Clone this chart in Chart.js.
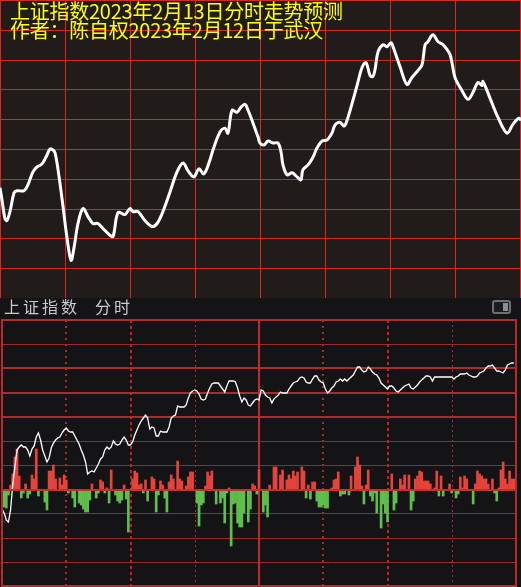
<!DOCTYPE html>
<html>
<head>
<meta charset="utf-8">
<script src="https://cdn.jsdelivr.net/npm/chart.js@4.4.1/dist/chart.umd.min.js"></script>
<style>
    html, body { margin: 0; padding: 0; width: 521px; height: 587px; overflow: hidden; background: #141417; }
    #forecast { position: absolute; left: 0; top: 0; background: #211b19; }
    #intraday { position: absolute; left: 0; top: 298px; background: #141417; }
    .title { position: absolute; left: 10px; font-family: "Noto Sans CJK SC", sans-serif; font-size: 20px; line-height: 20px; color: #ffff00; white-space: nowrap; letter-spacing: -0.25px; }
    .hdr { position: absolute; top: 298px; font-family: "Noto Sans CJK SC", sans-serif; font-size: 16px; line-height: 17px; color: #c8cacc; letter-spacing: 3px; white-space: nowrap; }
    #toggle { position: absolute; left: 492px; top: 300px; width: 15px; height: 10px; border: 2px solid #6c7076; border-radius: 3px; background: #1b1c1f; }
    #toggle div { position: absolute; right: 1px; top: 1px; width: 5px; height: 8px; background: #8a8e94; }
</style>
</head>
<body>
<canvas id="forecast" width="521" height="298"></canvas>
<canvas id="intraday" width="521" height="289"></canvas>
<div class="title" style="top:1px">上证指数2023年2月13日分时走势预测</div>
<div class="title" style="top:20px">作者：陈自权2023年2月12日于武汉</div>
<div class="hdr" style="left:4px">上证指数</div>
<div class="hdr" style="left:95px">分时</div>
<div id="toggle"><div></div></div>
<script>
// Forecast curve (upper panel): minute of session, predicted index level
const forecastMinutes = [0, 0.9, 2.3, 3.2, 4.6, 6.5, 7.8, 11.1, 12.9, 15.2, 17.1, 19.4, 21.7, 23.1, 24.5, 25.4, 26.8, 29.1, 30.9, 32.8,
    34.2, 36.0, 38.3, 40.6, 42.9, 45.2, 47.5, 50.8, 52.2, 54.5, 57.7, 60.0, 61.4, 63.7, 66.9, 70.2, 72.5, 75.2, 78.5, 81.7,
    84.5, 86.8, 89.5, 91.8, 94.1, 96.9, 98.3, 101.5, 103.8, 105.2, 107.1, 109.4, 111.2, 113.1, 114.5, 116.8, 119.1, 120.0, 121.8, 123.7,
    126.0, 128.3, 129.7, 130.6, 132.5, 134.8, 137.1, 138.9, 139.8, 142.2, 144.5, 146.3, 148.6, 150.9, 153.2, 154.6, 156.9, 158.8, 160.2, 162.5,
    164.8, 167.1, 168.9, 170.8, 172.1, 173.1, 174.5, 176.8, 178.6, 180.5, 181.4, 184.6, 187.8, 190.1, 192.9, 194.8, 196.2, 197.5, 199.8, 202.2,
    204.5, 207.7, 210.0, 213.2, 216.0, 218.3, 220.6, 222.5, 222.9, 226.2, 229.8, 234.0, 236.8, 239.5, 240.5];
const forecastLevels = [3271.1, 3269.9, 3268.0, 3267.8, 3268.7, 3270.6, 3270.8, 3270.8, 3271.4, 3272.7, 3273.2, 3273.5, 3274.4, 3275.0, 3274.9, 3274.6, 3272.9, 3269.2, 3266.1, 3263.8,
    3265.1, 3267.5, 3269.0, 3268.2, 3267.5, 3267.5, 3267.0, 3266.3, 3266.2, 3268.6, 3268.4, 3269.0, 3268.7, 3268.7, 3267.8, 3267.2, 3267.5, 3268.7, 3270.7, 3272.7,
    3273.6, 3272.8, 3272.2, 3273.0, 3272.5, 3273.9, 3274.9, 3276.7, 3277.1, 3276.6, 3278.9, 3278.7, 3279.2, 3279.5, 3278.9, 3277.6, 3276.2, 3275.6, 3275.4, 3275.8,
    3275.6, 3275.6, 3274.7, 3273.4, 3272.4, 3272.6, 3272.2, 3271.9, 3272.9, 3273.4, 3274.2, 3275.1, 3275.8, 3275.9, 3276.6, 3277.4, 3277.7, 3277.3, 3277.9, 3279.6,
    3281.4, 3283.2, 3283.7, 3282.4, 3282.3, 3283.0, 3284.8, 3285.5, 3285.3, 3285.7, 3285.3, 3283.3, 3281.5, 3282.2, 3282.9, 3283.5, 3285.5, 3285.8, 3286.5, 3285.8,
    3285.5, 3284.5, 3282.2, 3280.9, 3280.0, 3280.7, 3281.7, 3281.4, 3281.8, 3280.1, 3278.2, 3276.6, 3277.5, 3278.1, 3277.9];

// Actual intraday index (lower panel), one value per minute 0..239
const actualPrice = [
    3256.2, 3255.4, 3254.0, 3253.6, 3256.0, 3261.0, 3264.6, 3268.0, 3268.6, 3269.0,
    3268.6, 3268.6, 3268.0, 3266.8, 3268.2, 3268.8, 3270.6, 3271.4, 3270.0, 3268.0,
    3266.8, 3265.6, 3266.4, 3268.4, 3269.4, 3270.0, 3270.4, 3270.6, 3271.4, 3272.0,
    3272.4, 3271.8, 3271.6, 3271.6, 3270.8, 3270.0, 3269.2, 3268.0, 3267.0, 3265.6,
    3263.2, 3263.6, 3263.8, 3263.6, 3264.4, 3265.2, 3266.2, 3266.6, 3268.0, 3268.6,
    3268.2, 3268.6, 3269.8, 3269.2, 3269.0, 3269.2, 3270.0, 3270.6, 3270.0, 3269.0,
    3269.0, 3269.6, 3271.0, 3272.0, 3273.0, 3273.8, 3274.4, 3275.0, 3274.4, 3272.2,
    3272.6, 3272.4, 3270.8, 3270.8, 3271.8, 3271.6, 3271.6, 3271.6, 3272.6, 3274.4,
    3274.8, 3275.0, 3276.8, 3276.6, 3276.6, 3276.6, 3277.0, 3278.4, 3279.4, 3279.8,
    3280.0, 3279.8, 3279.2, 3278.2, 3278.0, 3278.2, 3279.4, 3280.4, 3281.2, 3281.4,
    3281.4, 3281.4, 3280.8, 3280.2, 3279.6, 3280.8, 3281.8, 3281.8, 3281.8, 3281.6,
    3280.4, 3278.8, 3277.6, 3278.4, 3278.0, 3277.0, 3276.8, 3277.4, 3278.0, 3278.2,
    3278.0, 3280.0, 3279.8, 3279.0, 3278.6, 3278.4, 3277.4, 3278.2, 3278.6, 3279.0,
    3279.6, 3279.4, 3279.4, 3279.4, 3280.2, 3280.8, 3281.4, 3281.6, 3281.8, 3282.4,
    3282.6, 3282.4, 3281.6, 3281.4, 3281.4, 3282.2, 3282.8, 3282.8, 3282.0, 3281.6,
    3281.4, 3280.2, 3279.4, 3279.8, 3280.4, 3280.8, 3281.6, 3281.8, 3282.2, 3281.8,
    3282.2, 3281.8, 3282.2, 3282.6, 3283.0, 3283.8, 3284.6, 3284.6, 3284.0, 3283.6,
    3283.8, 3284.6, 3284.2, 3283.6, 3283.2, 3283.0, 3282.4, 3281.4, 3281.0, 3280.6,
    3280.2, 3280.8, 3280.8, 3280.4, 3279.8, 3279.6, 3280.0, 3280.4, 3280.8, 3281.0,
    3281.2, 3280.4, 3280.2, 3280.6, 3281.0, 3281.6, 3282.0, 3282.4, 3282.8, 3282.8,
    3282.6, 3281.8, 3282.6, 3282.6, 3282.6, 3282.6, 3282.6, 3282.6, 3282.6, 3282.6,
    3282.6, 3282.2, 3282.6, 3282.8, 3283.2, 3283.2, 3283.2, 3283.4, 3283.0, 3282.8,
    3282.6, 3282.6, 3282.8, 3283.4, 3283.6, 3283.8, 3284.4, 3284.8, 3284.8, 3285.0,
    3284.4, 3283.8, 3283.8, 3283.6, 3283.4, 3284.0, 3285.0, 3285.2, 3285.4, 3285.4
];

// Red / green bars around the zero line (lower panel)
const barMinutes = [1, 2, 3, 4, 5, 6, 7, 8, 9, 10, 11, 12, 13, 14, 15, 16, 17, 20, 21, 22,
    23, 24, 25, 27, 28, 29, 30, 31, 33, 34, 36, 37, 38, 39, 40, 41, 42, 44, 45, 46,
    47, 48, 49, 50, 51, 53, 54, 55, 56, 57, 58, 59, 61, 62, 63, 64, 65, 66, 67, 68,
    70, 71, 72, 73, 74, 75, 76, 77, 78, 79, 80, 82, 83, 84, 86, 87, 88, 89, 91, 92,
    93, 94, 95, 96, 97, 98, 100, 102, 103, 104, 105, 106, 107, 108, 109, 110, 111, 112, 113, 115,
    116, 117, 118, 119, 120, 122, 123, 124, 125, 127, 128, 130, 131, 133, 134, 135, 136, 137, 138, 140,
    141, 142, 143, 144, 145, 146, 147, 148, 149, 150, 151, 152, 154, 155, 156, 157, 158, 159, 160, 162,
    163, 165, 166, 167, 168, 169, 170, 171, 172, 173, 174, 175, 177, 178, 179, 180, 182, 183, 184, 186,
    187, 188, 190, 191, 192, 193, 194, 195, 196, 197, 198, 199, 200, 202, 203, 204, 205, 206, 209, 210,
    212, 213, 214, 215, 216, 217, 220, 221, 222, 223, 224, 225, 226, 227, 229, 230, 231, 232, 233, 234,
    235, 236, 237, 238, 239];
const barValues = [-3.4, -3.6, -1.0, 1.0, 3.2, 6.6, 8.2, 2.8, -1.6, -0.6, 1.2, -1.6, -0.8, 3.0, 2.2, 8.2, -1.2, -2.4, -4.0, 3.8,
    3.8, 5.0, 2.2, 2.4, 1.0, 3.0, 2.0, -0.6, -1.6, -3.4, -2.6, -3.0, -3.8, -4.4, -4.4, -2.0, 1.2, -1.6, -0.6, 2.0,
    1.6, -0.6, 0.4, -2.6, 4.0, -1.0, -2.2, -2.6, -2.0, 1.0, -1.8, -8.4, 2.2, 3.8, 3.4, 1.0, 1.2, -0.6, 2.0, -2.2,
    2.6, 2.2, -4.4, -1.0, 1.8, 1.0, -1.6, -4.4, 1.6, 3.0, 2.2, 5.8, 2.2, 1.8, 0.8, 2.6, 3.6, 3.6, -2.6, -7.2,
    -3.0, -2.6, 0.8, 3.6, 2.8, 3.8, -2.8, -2.6, -1.6, -6.6, -0.6, 0.4, -11.2, -2.8, -2.6, -6.6, -7.4, -7.4, -4.6, -6.4,
    -3.8, 1.2, 0.8, -0.8, 4.0, -4.4, -3.0, -5.4, 1.0, 4.6, 4.6, 3.0, 4.0, 2.0, 3.0, 2.2, 3.8, 2.8, 3.6, 4.6,
    3.8, -1.6, 1.0, -1.8, 1.6, 1.6, -2.2, -3.4, -3.4, -3.0, -3.6, -3.6, 0.4, 2.0, 2.2, 3.6, -1.2, -0.8, -0.8, -1.0,
    2.8, 4.6, 6.6, 5.0, 0.8, -2.8, 1.0, 4.0, -1.2, -2.2, -0.6, -4.6, -7.6, -2.8, -4.6, -6.4, 3.2, -4.0, -2.6, 2.2,
    1.0, 3.0, 3.0, -4.0, -2.2, 2.2, 2.8, 3.8, 3.6, 1.8, 1.8, 1.8, 1.2, 0.4, 3.8, -1.2, 2.8, -1.2, 1.2, -0.6,
    -1.6, -0.8, 2.6, 0.4, 2.8, 2.2, -2.8, 1.2, 3.8, 3.2, 2.8, 2.2, 2.2, 1.2, 2.2, -0.6, -2.2, 0.4, 4.0, 5.6,
    2.2, 1.2, 3.8, 2.2, 2.2];

const PREV_CLOSE = 3260;
const H_ROWS = 11;
const H_WIDTHS = [2, 1, 2, 2, 2, 1, 1, 2, 1, 1, 1, 2];
const V_LINES = [
    { minute: 30, width: 2, dash: [2, 4] },
    { minute: 60, width: 2, dash: [3, 3] },
    { minute: 90, width: 1, dash: [2, 3] },
    { minute: 120, width: 2, dash: [] },
    { minute: 150, width: 2, dash: [2, 4] },
    { minute: 180, width: 2, dash: [3, 3] },
    { minute: 210, width: 1, dash: [2, 3] }
];

// Upper panel grid: solid red lines at every x / y tick, snapped to whole pixels
const forecastGrid = {
    id: 'forecastGrid',
    beforeDatasetsDraw(chart) {
        const { ctx, chartArea: a, scales: { x, y } } = chart;
        ctx.save();
        ctx.fillStyle = '#d8281f';
        x.ticks.forEach(t => {
            const px = Math.min(Math.round(x.getPixelForValue(t.value)), chart.width - 1);
            ctx.fillRect(px, a.top, 1, a.bottom - a.top);
        });
        y.ticks.forEach(t => {
            const py = Math.round(y.getPixelForValue(t.value));
            if (py < chart.height - 1) ctx.fillRect(a.left, py, a.right - a.left + 1, 1);
        });
        ctx.restore();
    }
};

new Chart(document.getElementById('forecast'), {
    type: 'line',
    data: {
        datasets: [{
            data: forecastMinutes.map((m, i) => ({ x: m, y: forecastLevels[i] })),
            borderColor: '#ffffff',
            borderWidth: 3,
            pointRadius: 0,
            tension: 0.35,
            clip: 6
        }]
    },
    options: {
        responsive: false,
        animation: false,
        devicePixelRatio: 1,
        layout: { padding: { left: 0, right: 1, top: 0, bottom: 0 } },
        plugins: { legend: { display: false }, tooltip: { enabled: false } },
        scales: {
            x: {
                type: 'linear', min: 0, max: 240,
                ticks: { display: false, stepSize: 30 },
                grid: { display: false, drawTicks: false },
                border: { display: false }
            },
            y: {
                min: 3260, max: 3290,
                ticks: { display: false, stepSize: 3 },
                grid: { display: false, drawTicks: false },
                border: { display: false }
            }
        }
    },
    plugins: [forecastGrid]
});

// Lower panel grid, drawn from the chart's own scales
const panelGrid = {
    id: 'panelGrid',
    beforeDatasetsDraw(chart) {
        const { ctx, chartArea: a, scales: { x, y } } = chart;
        ctx.save();
        const step = (y.max - y.min) / H_ROWS;
        for (let i = 1; i < H_ROWS; i++) {
            if (i === 7) continue;
            const py = Math.round(y.getPixelForValue(y.max - i * step));
            const w = H_WIDTHS[i];
            ctx.fillStyle = w > 1 ? '#b02a2a' : '#9c2828';
            ctx.fillRect(a.left, py - (w > 1 ? 1 : 0), a.right - a.left, w);
        }
        V_LINES.forEach(v => {
            const px = Math.round(x.getPixelForValue(v.minute));
            ctx.beginPath();
            ctx.strokeStyle = v.dash.length ? '#b02a2a' : '#c02c2c';
            ctx.lineWidth = v.width;
            ctx.setLineDash(v.dash);
            const off = v.width % 2 ? 0.5 : 0;
            ctx.moveTo(px + off, a.top);
            ctx.lineTo(px + off, a.bottom);
            ctx.stroke();
        });
        ctx.restore();
    },
    afterDatasetsDraw(chart) {
        const { ctx, chartArea: a, scales: { y } } = chart;
        ctx.save();
        const py = Math.round(y.getPixelForValue(PREV_CLOSE));
        ctx.fillStyle = '#c2302c';
        ctx.fillRect(a.left, py - 1, a.right - a.left, 2);
        ctx.strokeStyle = '#b52a2a';
        ctx.lineWidth = 2;
        ctx.strokeRect(a.left, a.top, a.right - a.left, a.bottom - a.top);
        ctx.restore();
    }
};

new Chart(document.getElementById('intraday'), {
    type: 'bar',
    data: {
        datasets: [
            {
                type: 'line',
                data: actualPrice.map((p, i) => ({ x: i, y: p })),
                yAxisID: 'y',
                borderColor: '#ffffff',
                borderWidth: 1.3,
                pointRadius: 0,
                tension: 0
            },
            {
                type: 'bar',
                data: barMinutes.map((m, i) => ({ x: m, y: barValues[i] })),
                yAxisID: 'y1',
                backgroundColor: ctx => (ctx.raw && ctx.raw.y < 0) ? '#5fbf4b' : '#e6433b',
                barThickness: 2,
                borderWidth: 0
            }
        ]
    },
    options: {
        responsive: false,
        animation: false,
        devicePixelRatio: 1,
        layout: { padding: { left: 2, right: 5, top: 22, bottom: 1 } },
        plugins: { legend: { display: false }, tooltip: { enabled: false } },
        scales: {
            x: { type: 'linear', min: 0, max: 240, offset: false, display: false },
            y: { min: 3240.8, max: 3294, display: false },
            y1: { min: -19.2, max: 34, display: false }
        }
    },
    plugins: [panelGrid]
});
</script>
</body>
</html>
